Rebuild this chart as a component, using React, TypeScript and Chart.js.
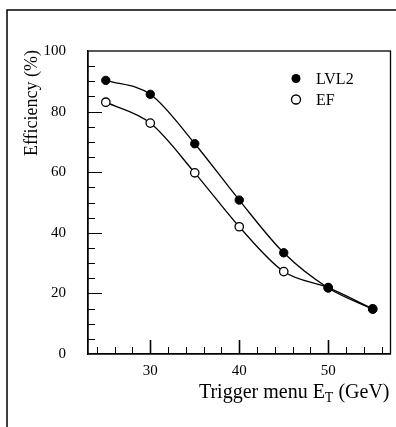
import React, { useEffect, useRef } from "react";
import { Chart, registerables } from "chart.js";

Chart.register(...registerables);

const energies = [25, 30, 35, 40, 45, 50, 55];
const lvl2Values = [90.3, 85.7, 69.4, 50.8, 33.4, 21.8, 14.8];
const efValues = [83.1, 76.2, 59.8, 42.0, 27.2, 21.9, 14.9];
const seriesNames = ["LVL2", "EF"];
const xTitleMain = "Trigger menu E";
const xTitleSub = "T";
const xTitleTail = " (GeV)";
const yTitle = "Efficiency (%)";

const FONT = "'Liberation Serif', 'DejaVu Serif', serif";

const decorPlugin = {
  id: "decor",
  afterDraw(chart: any) {
    const ctx = chart.ctx as CanvasRenderingContext2D;
    const { left, right, top, bottom } = chart.chartArea;
    const xs = chart.scales.x;
    const ys = chart.scales.y;
    ctx.save();
    ctx.strokeStyle = "#000";
    ctx.fillStyle = "#000";
    // outer frame
    ctx.lineWidth = 1.5;
    ctx.beginPath();
    ctx.moveTo(7, 427);
    ctx.lineTo(7, 10);
    ctx.lineTo(396, 10);
    ctx.stroke();
    // plot box
    ctx.lineWidth = 1.3;
    ctx.strokeRect(left, top, right - left, bottom - top);
    // x ticks inward
    for (let v = 24; v <= 56; v += 2) {
      const px = Math.round(xs.getPixelForValue(v)) + 0.5;
      const major = v % 10 === 0;
      ctx.lineWidth = major ? 1.6 : 1;
      ctx.beginPath();
      ctx.moveTo(px, bottom);
      ctx.lineTo(px, bottom - (major ? 14 : 7));
      ctx.stroke();
    }
    // y ticks inward
    for (let v = 5; v < 100; v += 5) {
      const py = Math.round(ys.getPixelForValue(v)) + 0.5;
      const major = v % 20 === 0;
      ctx.lineWidth = 1;
      ctx.beginPath();
      ctx.moveTo(left, py);
      ctx.lineTo(left + (major ? 14 : 7), py);
      ctx.stroke();
    }
    // x title
    const big = "20px " + FONT;
    const small = "14px " + FONT;
    ctx.textBaseline = "alphabetic";
    ctx.font = big;
    const wTail = ctx.measureText(xTitleTail).width;
    const wMain = ctx.measureText(xTitleMain).width;
    ctx.font = small;
    const wSub = ctx.measureText(xTitleSub).width;
    const xEnd = right - 1;
    const base = 398;
    ctx.textAlign = "left";
    ctx.font = big;
    ctx.fillText(xTitleMain, xEnd - wTail - wSub - wMain, base);
    ctx.font = small;
    ctx.fillText(xTitleSub, xEnd - wTail - wSub, base + 4);
    ctx.font = big;
    ctx.fillText(xTitleTail, xEnd - wTail, base);
    // y title
    ctx.save();
    ctx.translate(37, top - 1);
    ctx.rotate(-Math.PI / 2);
    ctx.textAlign = "right";
    ctx.font = "18px " + FONT;
    ctx.fillText(yTitle, 0, 0);
    ctx.restore();
    // legend
    const lx = 296;
    const ly = [78.5, 99.5];
    ctx.font = "16px " + FONT;
    ctx.textAlign = "left";
    ctx.textBaseline = "middle";
    seriesNames.forEach((name, i) => {
      ctx.beginPath();
      ctx.arc(lx, ly[i], 4.5, 0, Math.PI * 2);
      ctx.lineWidth = 1.3;
      if (i === 0) {
        ctx.fill();
      } else {
        ctx.fillStyle = "#fff";
        ctx.fill();
        ctx.fillStyle = "#000";
        ctx.stroke();
      }
      ctx.fillText(name, lx + 20, ly[i] + 1);
    });
    ctx.restore();
  },
};

export default function App() {
  const ref = useRef<HTMLCanvasElement>(null);
  useEffect(() => {
    if (!ref.current) return;
    const chart = new Chart(ref.current, {
      type: "line",
      data: {
        datasets: [
          {
            label: seriesNames[0],
            data: energies.map((x, i) => ({ x, y: lvl2Values[i] })),
            borderColor: "#000",
            borderWidth: 1.3,
            backgroundColor: "#000",
            pointBackgroundColor: "#000",
            pointBorderColor: "#000",
            pointRadius: 4.2,
            pointBorderWidth: 1,
            cubicInterpolationMode: "monotone",
            fill: false,
          },
          {
            label: seriesNames[1],
            data: energies.map((x, i) => ({ x, y: efValues[i] })),
            borderColor: "#000",
            borderWidth: 1.3,
            backgroundColor: "#fff",
            pointBackgroundColor: "#fff",
            pointBorderColor: "#000",
            pointRadius: 4.2,
            pointBorderWidth: 1.3,
            cubicInterpolationMode: "monotone",
            fill: false,
          },
        ],
      },
      options: {
        responsive: false,
        animation: false,
        events: [],
        layout: { padding: { top: 51, right: 5, left: 0, bottom: 0 } },
        plugins: { legend: { display: false }, tooltip: { enabled: false } },
        scales: {
          x: {
            type: "linear",
            min: 23,
            max: 57,
            afterBuildTicks: (scale: any) => {
              scale.ticks = [30, 40, 50].map((v) => ({ value: v }));
            },
            afterFit: (scale: any) => {
              scale.height = 73;
            },
            ticks: {
              color: "#000",
              font: { family: FONT, size: 15 },
              padding: 8,
              maxRotation: 0,
            },
            grid: { display: false, drawTicks: false },
            border: { display: true, color: "#000", width: 1.3 },
          },
          y: {
            type: "linear",
            min: 0,
            max: 100,
            afterBuildTicks: (scale: any) => {
              scale.ticks = [0, 20, 40, 60, 80, 100].map((v) => ({ value: v }));
            },
            afterFit: (scale: any) => {
              scale.width = 88;
            },
            ticks: {
              color: "#000",
              font: { family: FONT, size: 15 },
              padding: 22,
            },
            grid: { display: false, drawTicks: false },
            border: { display: true, color: "#000", width: 1.3 },
          },
        },
      },
      plugins: [decorPlugin],
    } as any);
    return () => chart.destroy();
  }, []);
  return (
    <div style={{ position: "fixed", left: 0, top: 0, width: 396, height: 427, background: "#fff" }}>
      <canvas ref={ref} width={396} height={427} style={{ display: "block" }} />
    </div>
  );
}
